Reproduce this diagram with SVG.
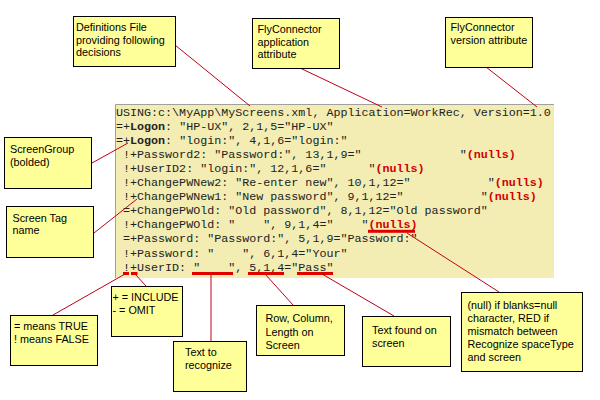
<svg xmlns="http://www.w3.org/2000/svg" width="600" height="400" viewBox="0 0 600 400">
<style>
.note rect{fill:#FFFF99;stroke:#000;stroke-width:1}
.note text{font-family:"Liberation Sans",Arial,sans-serif;font-size:10.8px;fill:#000}
.code text{font-family:"Liberation Mono","Courier New",monospace;font-size:11.7px;fill:#222;white-space:pre}
.code .b{font-weight:bold}
.code .n{fill:#D00000;font-weight:bold}
.conn line{stroke:#C00018;stroke-width:1}
.bar{fill:#E00000}
</style>
<rect width="600" height="400" fill="#FFFFFF"/>
<g id="code-panel">
<rect x="115" y="104" width="439" height="174" fill="#F3EDB3"/>
<polyline points="115.5,278 115.5,104.5 554,104.5" fill="none" stroke="#A0A0A0" stroke-width="1"/>
<g class="code">
<text xml:space="preserve" x="116" y="115.5">USING:c:\MyApp\MyScreens.xml, Application=WorkRec, Version=1.0</text>
<text xml:space="preserve" x="116" y="129.6">=+<tspan class="b">Logon</tspan>: "HP-UX", 2,1,5="HP-UX"</text>
<text xml:space="preserve" x="116" y="143.7">=+<tspan class="b">Logon</tspan>: "login:", 4,1,6="login:"</text>
<text xml:space="preserve" x="116" y="157.8"> !+Password2: "Password:", 13,1,9="              "<tspan class="n">(nulls)</tspan></text>
<text xml:space="preserve" x="116" y="171.9"> !+UserID2: "login:", 12,1,6="      "<tspan class="n">(nulls)</tspan></text>
<text xml:space="preserve" x="116" y="186"> !+ChangePWNew2: "Re-enter new", 10,1,12="           "<tspan class="n">(nulls)</tspan></text>
<text xml:space="preserve" x="116" y="200.1"> !+ChangePWNew1: "New password", 9,1,12="           "<tspan class="n">(nulls)</tspan></text>
<text xml:space="preserve" x="116" y="214.2"> =+ChangePWOld: "Old password", 8,1,12="Old password"</text>
<text xml:space="preserve" x="116" y="228.3"> !+ChangePWOld: "    ", 9,1,4="    "<tspan class="n">(nulls)</tspan></text>
<text xml:space="preserve" x="116" y="242.4"> =+Password: "Password:", 5,1,9="Password:"</text>
<text xml:space="preserve" x="116" y="256.5"> !+Password: "    ", 6,1,4="Your"</text>
<text xml:space="preserve" x="116" y="270.6"> !+UserID: "    ", 5,1,4="Pass"</text>
</g>
<rect class="bar" x="123" y="272" width="6" height="3"/>
<rect class="bar" x="131" y="272" width="6.5" height="3"/>
<rect class="bar" x="192" y="272" width="41" height="3"/>
<rect class="bar" x="248" y="272" width="36" height="3"/>
<rect class="bar" x="297" y="272" width="36" height="3"/>
<rect class="bar" x="368" y="229.8" width="47" height="3"/>
</g>
<g class="conn" id="connectors">
<line x1="175" y1="45" x2="250" y2="106"/>
<line x1="300" y1="68" x2="382" y2="107"/>
<line x1="486" y1="67" x2="537" y2="107"/>
<line x1="92" y1="163" x2="128" y2="143"/>
<line x1="94" y1="233" x2="137" y2="199"/>
<line x1="53" y1="315" x2="125" y2="274"/>
<line x1="146" y1="286" x2="135" y2="274"/>
<line x1="211" y1="274" x2="211" y2="341"/>
<line x1="265" y1="274" x2="293" y2="305"/>
<line x1="322" y1="274" x2="394" y2="316"/>
<line x1="407" y1="233" x2="499" y2="292"/>
</g>
<g class="note" id="n-defs"><rect x="73.5" y="16.5" width="102" height="50"/>
<text x="76" y="31">Definitions File</text><text x="76" y="43.5">providing following</text><text x="76" y="56">decisions</text></g>
<g class="note" id="n-app"><rect x="252.5" y="18.5" width="87" height="50"/>
<text x="257.5" y="32.5">FlyConnector</text><text x="257.5" y="45.5">application</text><text x="257.5" y="58">attribute</text></g>
<g class="note" id="n-version"><rect x="445.5" y="17.5" width="87" height="50"/>
<text x="450.5" y="30.5">FlyConnector</text><text x="450.5" y="43.5">version attribute</text></g>
<g class="note" id="n-group"><rect x="4.5" y="137.5" width="87" height="51"/>
<text x="10" y="153">ScreenGroup</text><text x="10" y="166">(bolded)</text></g>
<g class="note" id="n-tag"><rect x="6.5" y="206.5" width="87" height="51"/>
<text x="12.5" y="221.5">Screen Tag</text><text x="12.5" y="234">name</text></g>
<g class="note" id="n-true"><rect x="10.5" y="315.5" width="87" height="50"/>
<text x="14" y="329.5">= means TRUE</text><text x="14" y="342.5">! means FALSE</text></g>
<g class="note" id="n-include"><rect x="111.5" y="286.5" width="71" height="50"/>
<text x="112.5" y="300.5">+ = INCLUDE</text><text x="112.5" y="314">- = OMIT</text></g>
<g class="note" id="n-recognize"><rect x="173.5" y="341.5" width="73" height="50"/>
<text x="185" y="356">Text to</text><text x="185" y="369">recognize</text></g>
<g class="note" id="n-rowcol"><rect x="256.5" y="305.5" width="88" height="50"/>
<text x="265.5" y="322">Row, Column,</text><text x="265.5" y="335.5">Length on</text><text x="265.5" y="348.5">Screen</text></g>
<g class="note" id="n-found"><rect x="362.5" y="316.5" width="88" height="50"/>
<text x="372" y="334">Text found on</text><text x="372" y="346.5">screen</text></g>
<g class="note" id="n-null"><rect x="461.5" y="292.5" width="121" height="79"/>
<text x="467.5" y="308.5">(null) if blanks=null</text><text x="467.5" y="321.5">character, RED if</text><text x="467.5" y="334.5">mismatch between</text><text x="467.5" y="347.5">Recognize spaceType</text><text x="467.5" y="360.5">and screen</text></g>
</svg>
